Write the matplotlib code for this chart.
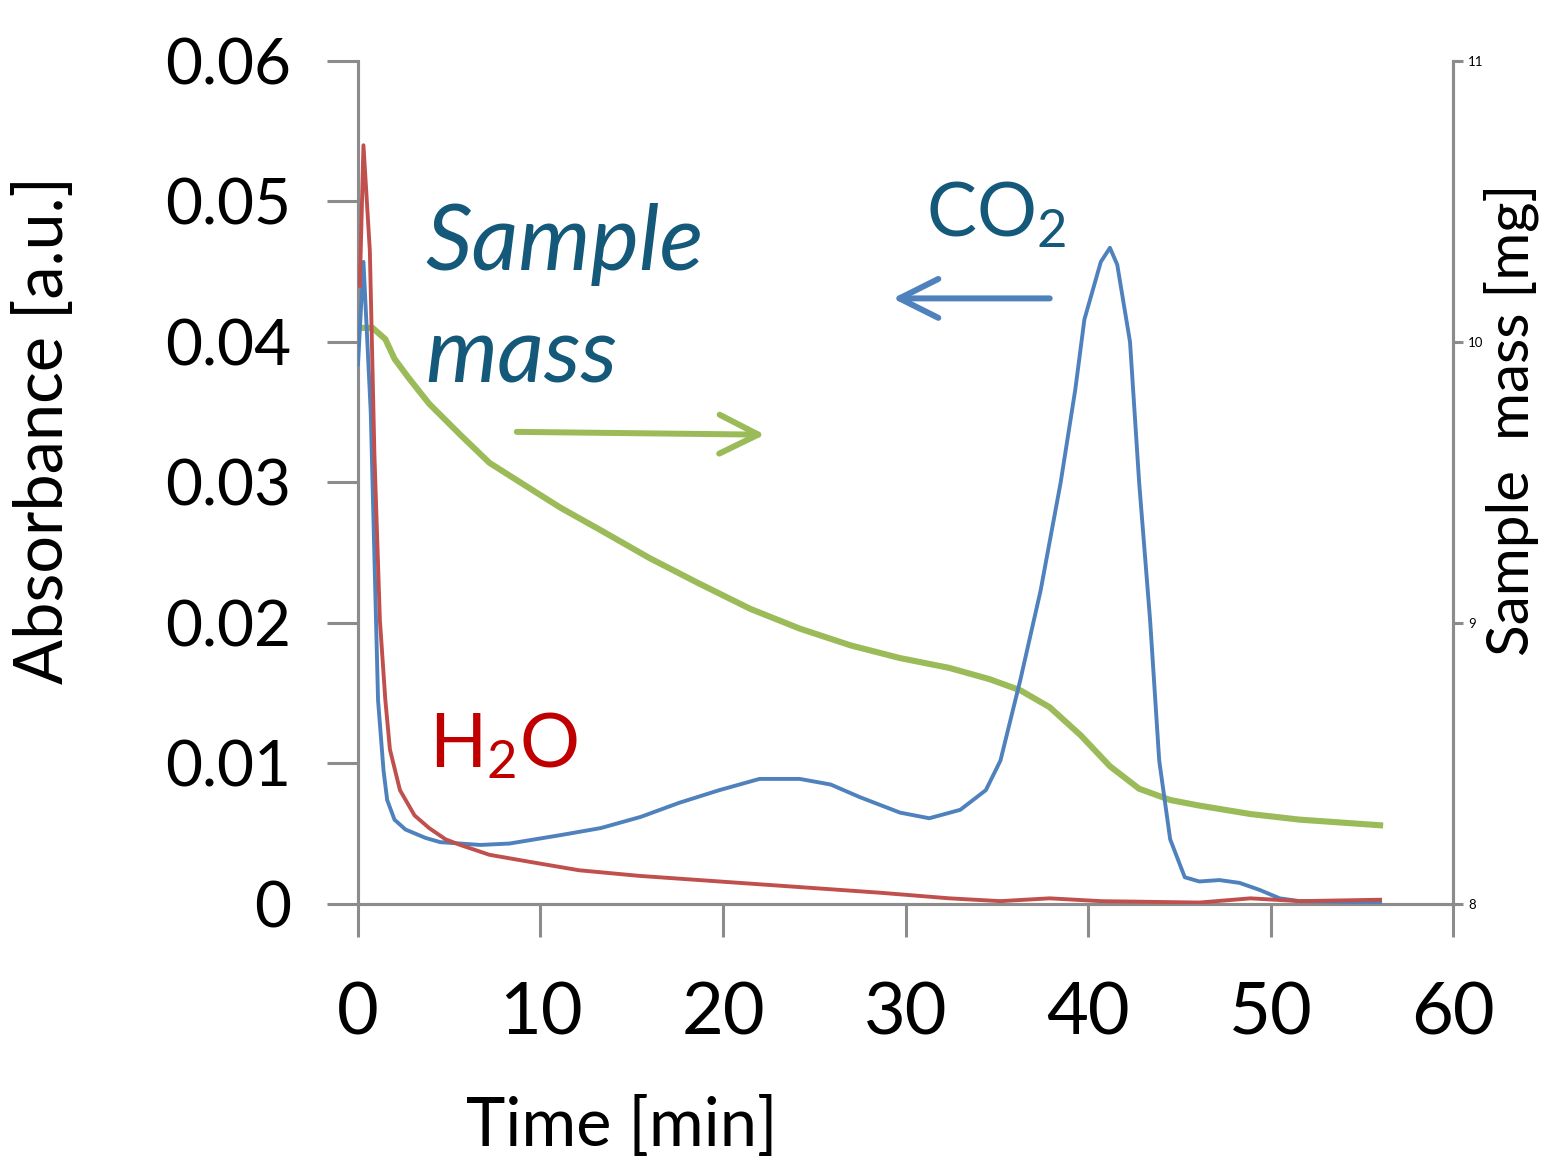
import matplotlib
matplotlib.use('Agg')
import matplotlib.pyplot as plt

plt.rcParams['font.family'] = ['Lato', 'DejaVu Sans']
plt.rcParams['mathtext.default'] = 'regular'

# CO2 absorbance (blue)
co2_time = [0.0, 0.3, 0.7, 1.1, 1.4, 1.6, 2.0, 2.6, 3.7, 4.5, 6.7, 8.3, 11.1, 13.3, 15.5,
            17.6, 19.8, 22.0, 24.2, 25.9, 27.5, 29.7, 31.3, 33.0, 34.4, 35.2, 36.3, 37.4,
            38.5, 39.3, 39.8, 40.7, 41.2, 41.6, 42.3, 42.8, 43.4, 43.9, 44.5, 45.3, 46.1,
            47.2, 48.3, 49.4, 50.5, 51.6, 56.0]
co2_abs = [0.0384, 0.0457, 0.035, 0.0145, 0.0095, 0.0074, 0.0060, 0.0053, 0.0047, 0.0044,
           0.0042, 0.0043, 0.0049, 0.0054, 0.0062, 0.0072, 0.0081, 0.0089, 0.0089, 0.0085,
           0.0076, 0.0065, 0.0061, 0.0067, 0.0081, 0.0102, 0.0160, 0.0223, 0.0300, 0.0366,
           0.0416, 0.0457, 0.0467, 0.0455, 0.0400, 0.0300, 0.0202, 0.0102, 0.0046, 0.0019,
           0.0016, 0.0017, 0.0015, 0.0010, 0.0004, 0.0002, 0.0001]

# H2O absorbance (red)
h2o_time = [0.1, 0.3, 0.65, 0.9, 1.2, 1.5, 1.75, 2.3, 3.1, 3.9, 4.8, 5.6, 7.2, 9.4, 12.1,
            15.4, 18.7, 22.0, 25.3, 28.6, 32.4, 35.2, 37.9, 40.7, 46.1, 48.9, 51.6, 56.0]
h2o_abs = [0.044, 0.054, 0.0465, 0.032, 0.0202, 0.0145, 0.0110, 0.0081, 0.0063, 0.0054,
           0.0046, 0.0042, 0.0035, 0.0030, 0.0024, 0.0020, 0.0017, 0.0014, 0.0011, 0.0008,
           0.0004, 0.0002, 0.0004, 0.0002, 0.0001, 0.0004, 0.0002, 0.0003]

# sample mass (green, right axis)
mass_time = [0.0, 0.8, 1.5, 2.0, 2.8, 3.9, 5.6, 7.2, 8.9, 11.1, 13.3, 16.0, 18.7, 21.5,
             24.2, 27.0, 29.7, 32.4, 34.6, 36.3, 37.9, 39.6, 41.2, 42.8, 44.5, 46.1, 48.9,
             51.6, 56.0]
mass_mg = [10.05, 10.05, 10.01, 9.94, 9.87, 9.78, 9.67, 9.57, 9.50, 9.41, 9.33, 9.23, 9.14,
           9.05, 8.98, 8.92, 8.875, 8.84, 8.80, 8.76, 8.70, 8.60, 8.49, 8.41, 8.37, 8.35,
           8.32, 8.30, 8.28]

x_ticks = [0, 10, 20, 30, 40, 50, 60]
y_ticks = [0, 0.01, 0.02, 0.03, 0.04, 0.05, 0.06]
y_ticklabels = ['0', '0.01', '0.02', '0.03', '0.04', '0.05', '0.06']
mass_ticks = [8, 9, 10, 11]

gray = '#8c8c8c'
teal = '#14587a'

fig = plt.figure(figsize=(15.45, 11.61), dpi=100)
ax = fig.add_axes([0.2317, 0.2214, 0.7088, 0.7261])
ax2 = ax.twinx()

ax.plot(co2_time, co2_abs, color='#4f81bd', lw=2.8, zorder=3)
ax.plot(h2o_time, h2o_abs, color='#c0504d', lw=2.8, zorder=3)
ax2.plot(mass_time, mass_mg, color='#9bbb59', lw=4.4)

ax.set_xlim(0, 60)
ax.set_ylim(0, 0.06)
ax2.set_ylim(8, 11)
ax.set_zorder(ax2.get_zorder() + 1)
ax.patch.set_visible(False)

ax.set_xticks(x_ticks)
ax.set_yticks(y_ticks)
ax.set_yticklabels(y_ticklabels)
ax2.set_yticks(mass_ticks)

for a in (ax, ax2):
    for s in a.spines.values():
        s.set_color(gray)
        s.set_linewidth(2.2)
    a.spines['top'].set_visible(False)

ax.tick_params(axis='x', length=24, width=2.2, color=gray, labelsize=52, pad=32)
ax.tick_params(axis='y', length=22, width=2.2, color=gray, labelsize=46, pad=26)
ax2.tick_params(axis='y', length=7, width=2.2, color=gray, labelsize=9.5, pad=4)

ax.set_xlabel('Time [min]', fontsize=48)
ax.xaxis.set_label_coords(0.241, -0.228)
ax.set_ylabel('Absorbance [a.u.]', fontsize=48)
ax.yaxis.set_label_coords(-0.258, 0.562)
ax2.set_ylabel('Sample  mass [mg]', fontsize=42)
ax2.yaxis.set_label_coords(1.028, 0.574)

ax.text(3.7, 0.0451, 'Sample', fontsize=66, style='italic', color=teal)
ax.text(3.7, 0.0371, 'mass', fontsize=66, style='italic', color=teal)
ax.text(31.1, 0.0475, r'CO$_2$', fontsize=54, color=teal)
ax.text(3.9, 0.0097, r'H$_2$O', fontsize=54, color='#c00000')

ax.annotate('', xy=(29.3, 0.0431), xytext=(37.9, 0.0431),
            arrowprops=dict(arrowstyle='->,head_length=0.7,head_width=0.35',
                            mutation_scale=40, color='#4f81bd', lw=4.3,
                            shrinkA=0, shrinkB=0))
ax.annotate('', xy=(22.3, 0.0334), xytext=(8.7, 0.0336),
            arrowprops=dict(arrowstyle='->,head_length=0.7,head_width=0.35',
                            mutation_scale=40, color='#9bbb59', lw=4.3,
                            shrinkA=0, shrinkB=0))

plt.savefig('out.png', dpi=100)
